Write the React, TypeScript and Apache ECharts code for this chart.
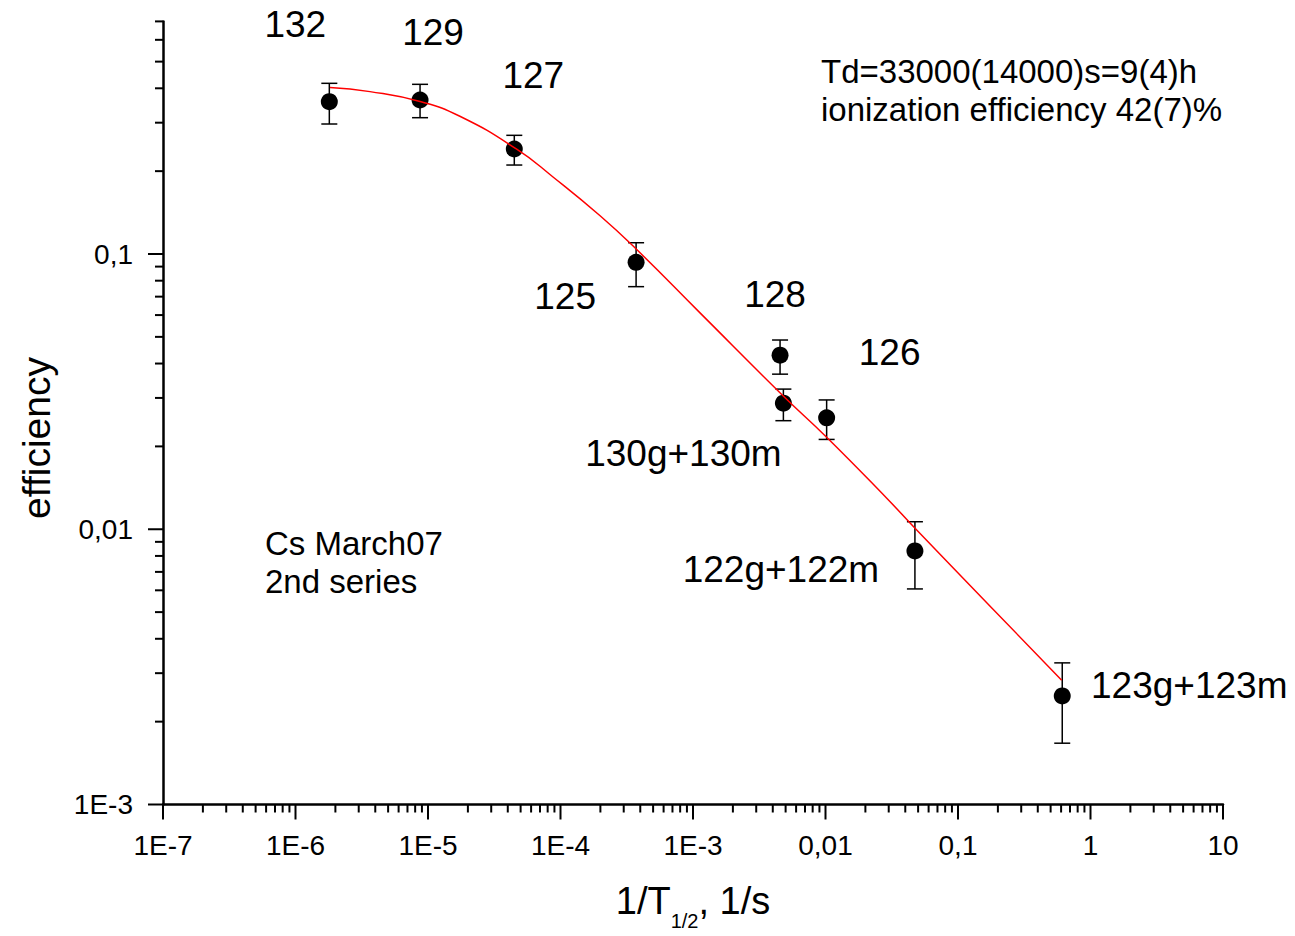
import React, { useEffect, useRef } from 'react';
import * as echarts from 'echarts';

// measured points: isotope, 1/T1/2 (1/s), efficiency with error bar ends
const isotopes = ['132', '129', '127', '125', '128', '130g+130m', '126', '122g+122m', '123g+123m'];
const invHalfLife = [1.8e-6, 8.71e-6, 4.48e-5, 3.72e-4, 4.54e-3, 4.81e-3, 1.02e-2, 4.73e-2, 0.612];
const efficiency = [0.3575, 0.3627, 0.2407, 0.0933, 0.0429, 0.0287, 0.0254, 0.00834, 0.00248];
const errLow = [0.2967, 0.3128, 0.2105, 0.0761, 0.0366, 0.0248, 0.0212, 0.00607, 0.00167];
const errHigh = [0.417, 0.4135, 0.2699, 0.1099, 0.0487, 0.0323, 0.0295, 0.01065, 0.00327];

// red fit line
const fitX = [1.82e-6, 3.65e-6, 8.71e-6, 1.74e-5, 4.67e-5, 8.78e-5, 1.99e-4, 3.76e-4, 1.13e-3, 4.8e-3, 1.02e-2, 2.9e-2, 4.74e-2, 0.169, 0.606];
const fitY = [0.403, 0.389, 0.358, 0.3165, 0.2403, 0.1905, 0.1377, 0.1038, 0.0611, 0.0305, 0.0216, 0.01296, 0.01008, 0.00534, 0.00283];

const xTickLabels = ['1E-7', '1E-6', '1E-5', '1E-4', '1E-3', '0,01', '0,1', '1', '10'];
const yTickLabels = ['1E-3', '0,01', '0,1'];

const X_MIN = 1e-7;
const X_MAX = 10;
const Y_MIN = 1e-3;
const Y_MAX = 0.7;

// where each isotope label sits relative to its point (px)
const labelOffsets: [number, number][] = [
  [-34, -77],
  [13, -67],
  [19, -74],
  [-71, 34],
  [-5, -61],
  [-100, 50],
  [63, -65],
  [-134, 19],
  [127, -10],
];

const FONT = '"Liberation Sans", Arial, sans-serif';

const decadeLabel = (v: number, labels: string[], offset: number) => {
  const l = Math.log10(v);
  const e = Math.round(l);
  if (Math.abs(l - e) > 1e-6) return '';
  return labels[e + offset] ?? '';
};

// tick marks for log axes (1..9 per decade)
const buildTicks = (from: number, to: number, max: number) => {
  const out: number[][] = [];
  for (let d = from; d < to; d++) {
    for (let k = 1; k <= 9; k++) {
      const v = k * Math.pow(10, d);
      if (v <= max * 1.000001) out.push([v, k === 1 ? 1 : 0]);
    }
  }
  if (Math.pow(10, to) <= max * 1.000001) out.push([Math.pow(10, to), 1]);
  return out;
};

const note = (text: string, x: number, y: number) => ({
  type: 'text',
  x,
  y,
  style: {
    text,
    fontSize: 33,
    fontFamily: FONT,
    fill: '#000',
    align: 'left',
    verticalAlign: 'middle',
  },
});

const App: React.FC = () => {
  const chartRef = useRef<HTMLDivElement>(null);

  useEffect(() => {
    if (!chartRef.current) return;
    const chart = echarts.init(chartRef.current, undefined, { renderer: 'svg' });

    const xTicks = buildTicks(-7, 1, X_MAX).map(([v, m]) => [v, Y_MIN, m]);
    const yTicks = buildTicks(-3, 0, Y_MAX).map(([v, m]) => [X_MIN, v, m]);
    const black = { stroke: '#000', lineWidth: 2 };
    const errStyle = { stroke: '#000', lineWidth: 1.5 };

    const option: any = {
      animation: false,
      textStyle: { fontFamily: FONT, color: '#000' },
      grid: { left: 163, top: 21.4, width: 1060, height: 783.1 },
      xAxis: {
        type: 'log',
        logBase: 10,
        min: X_MIN,
        max: X_MAX,
        interval: 1,
        splitLine: { show: false },
        axisTick: { show: false },
        axisLine: { lineStyle: { color: '#000', width: 2.5 } },
        axisLabel: {
          margin: 27,
          fontSize: 28,
          color: '#000',
          fontFamily: FONT,
          formatter: (v: number) => decadeLabel(v, xTickLabels, 7),
        },
        name: '{m|1/T}{s|1/2}{m|, 1/s}',
        nameLocation: 'middle',
        nameGap: 77,
        nameTextStyle: {
          rich: {
            m: { fontSize: 38, fontFamily: FONT, color: '#000' },
            s: { fontSize: 20, lineHeight: 20, fontFamily: FONT, color: '#000', padding: [40, 0, 0, 0] },
          },
        },
      },
      yAxis: {
        type: 'log',
        logBase: 10,
        min: Y_MIN,
        max: Y_MAX,
        interval: 1,
        splitLine: { show: false },
        axisTick: { show: false },
        axisLine: { lineStyle: { color: '#000', width: 2.5 } },
        axisLabel: {
          margin: 30,
          fontSize: 28,
          color: '#000',
          fontFamily: FONT,
          formatter: (v: number) => decadeLabel(v, yTickLabels, 3),
        },
        name: 'efficiency',
        nameLocation: 'middle',
        nameGap: 107,
        nameTextStyle: { fontSize: 39, fontFamily: FONT, color: '#000', padding: [0, 50, 0, 0] },
      },
      graphic: [
        note('Td=33000(14000)s=9(4)h', 821, 71),
        note('ionization efficiency 42(7)%', 821, 109),
        note('Cs March07', 265, 543),
        note('2nd series', 265, 581),
      ],
      series: [
        {
          type: 'custom',
          name: 'xTicks',
          clip: false,
          silent: true,
          z: 1,
          encode: { x: 0, y: 1 },
          data: xTicks,
          renderItem: (_p: any, api: any) => {
            const pt = api.coord([api.value(0), api.value(1)]);
            const len = api.value(2) ? 15 : 8;
            return { type: 'line', shape: { x1: pt[0], y1: pt[1], x2: pt[0], y2: pt[1] + len }, style: black };
          },
        },
        {
          type: 'custom',
          name: 'yTicks',
          clip: false,
          silent: true,
          z: 1,
          encode: { x: 0, y: 1 },
          data: yTicks,
          renderItem: (_p: any, api: any) => {
            const pt = api.coord([api.value(0), api.value(1)]);
            const len = api.value(2) ? 15 : 8;
            return { type: 'line', shape: { x1: pt[0], y1: pt[1], x2: pt[0] - len, y2: pt[1] }, style: black };
          },
        },
        {
          type: 'custom',
          name: 'errors',
          clip: false,
          z: 2,
          encode: { x: 0, y: [1, 2] },
          data: invHalfLife.map((x, i) => [x, errLow[i], errHigh[i]]),
          renderItem: (_p: any, api: any) => {
            const lo = api.coord([api.value(0), api.value(1)]);
            const hi = api.coord([api.value(0), api.value(2)]);
            const w = 8;
            return {
              type: 'group',
              children: [
                { type: 'line', shape: { x1: lo[0], y1: lo[1], x2: hi[0], y2: hi[1] }, style: errStyle },
                { type: 'line', shape: { x1: lo[0] - w, y1: lo[1], x2: lo[0] + w, y2: lo[1] }, style: errStyle },
                { type: 'line', shape: { x1: hi[0] - w, y1: hi[1], x2: hi[0] + w, y2: hi[1] }, style: errStyle },
              ],
            };
          },
        },
        {
          type: 'scatter',
          name: 'efficiency',
          z: 3,
          symbol: 'circle',
          symbolSize: 17,
          itemStyle: { color: '#000', opacity: 1 },
          data: invHalfLife.map((x, i) => ({
            value: [x, efficiency[i]],
            label: {
              show: true,
              position: 'inside',
              formatter: isotopes[i],
              offset: labelOffsets[i],
              fontSize: 37,
              fontFamily: FONT,
              color: '#000',
              opacity: 1,
            },
          })),
        },
        {
          type: 'line',
          name: 'fit',
          z: 4,
          showSymbol: false,
          symbol: 'none',
          smooth: 0.5,
          lineStyle: { color: '#ff0000', width: 1.5 },
          data: fitX.map((x, i) => [x, fitY[i]]),
        },
      ],
    };

    chart.setOption(option);

    return () => {
      chart.dispose();
    };
  }, []);

  return <div ref={chartRef} style={{ position: 'absolute', left: 0, top: 0, width: 1295, height: 936 }} />;
};

export default App;
